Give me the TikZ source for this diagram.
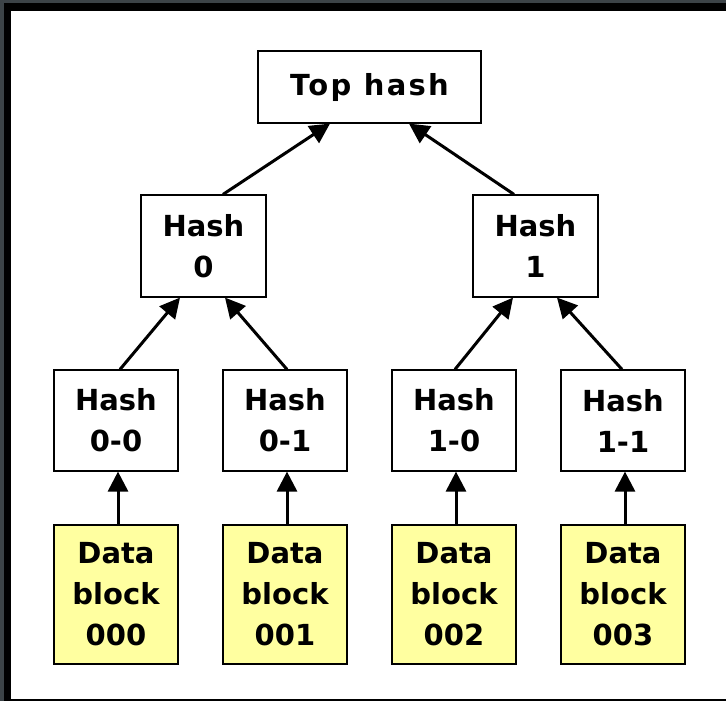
\documentclass[tikz,border=0pt]{standalone}
\usepackage{fontspec}
\setmainfont{DejaVu Sans}
\usetikzlibrary{arrows.meta}
\definecolor{framegray}{HTML}{3C4347}
\definecolor{datayellow}{HTML}{FFFFA0}
\tikzset{
  box/.style={draw, line width=1.2pt, fill=white, inner sep=0pt, align=center,
    font=\bfseries\fontsize{29}{41}\selectfont},
  tophash/.style={box, minimum width=223pt, minimum height=72pt},
  midhash/.style={box, minimum width=125pt, minimum height=102pt},
  lowhash/.style={box, minimum width=124pt, minimum height=101pt},
  datablock/.style={box, fill=datayellow, minimum width=124pt, minimum height=139pt},
  link/.style={line width=3pt, -{Triangle[length=20pt,width=20pt]}}
}
\begin{document}
\begin{tikzpicture}[x=1pt,y=-1pt]
      \useasboundingbox (0,0) rectangle (726,701);
      \fill[framegray] (0,0) rectangle (726,701);
      \fill[black] (4,3) rectangle (726,701);
      \fill[white] (11,11) rectangle (726,699);
      \draw
        (369.5,87) node[tophash] (top){\addfontfeature{LetterSpace=8}Top hash}
        (203.5,246) node[midhash] (h0){Hash\\0}
        (535.5,246) node[midhash] (h1){Hash\\1}
        (116,420.5) node[lowhash] (h00){Hash\\0-0}
        (285,420.5) node[lowhash] (h01){Hash\\0-1}
        (454,420.5) node[lowhash] (h10){Hash\\1-0}
        (623,420.5) node[lowhash] (h11){Hash\\1-1}
        (116,594.5) node[datablock] (d0){Data\\block\\000}
        (285,594.5) node[datablock] (d1){Data\\block\\001}
        (454,594.5) node[datablock] (d2){Data\\block\\002}
        (623,594.5) node[datablock] (d3){Data\\block\\003};
      \begin{scope}[link]
        \draw ([xshift=19.5pt]h0.north) to ([xshift=-39.5pt]top.south);
        \draw ([xshift=-21.5pt]h1.north) to ([xshift=39.5pt]top.south);
        \draw ([xshift=4pt]h00.north) to ([xshift=-23.5pt]h0.south);
        \draw ([xshift=2pt]h01.north) to ([xshift=21.5pt]h0.south);
        \draw ([xshift=1pt]h10.north) to ([xshift=-22.5pt]h1.south);
        \draw ([xshift=-1pt]h11.north) to ([xshift=21.5pt]h1.south);
        \draw ([xshift=2pt]d0.north) to ([xshift=2pt]h00.south);
        \draw ([xshift=2pt]d1.north) to ([xshift=2pt]h01.south);
        \draw ([xshift=2pt]d2.north) to ([xshift=2pt]h10.south);
        \draw ([xshift=2pt]d3.north) to ([xshift=2pt]h11.south);
      \end{scope}
    \end{tikzpicture}
\end{document}
